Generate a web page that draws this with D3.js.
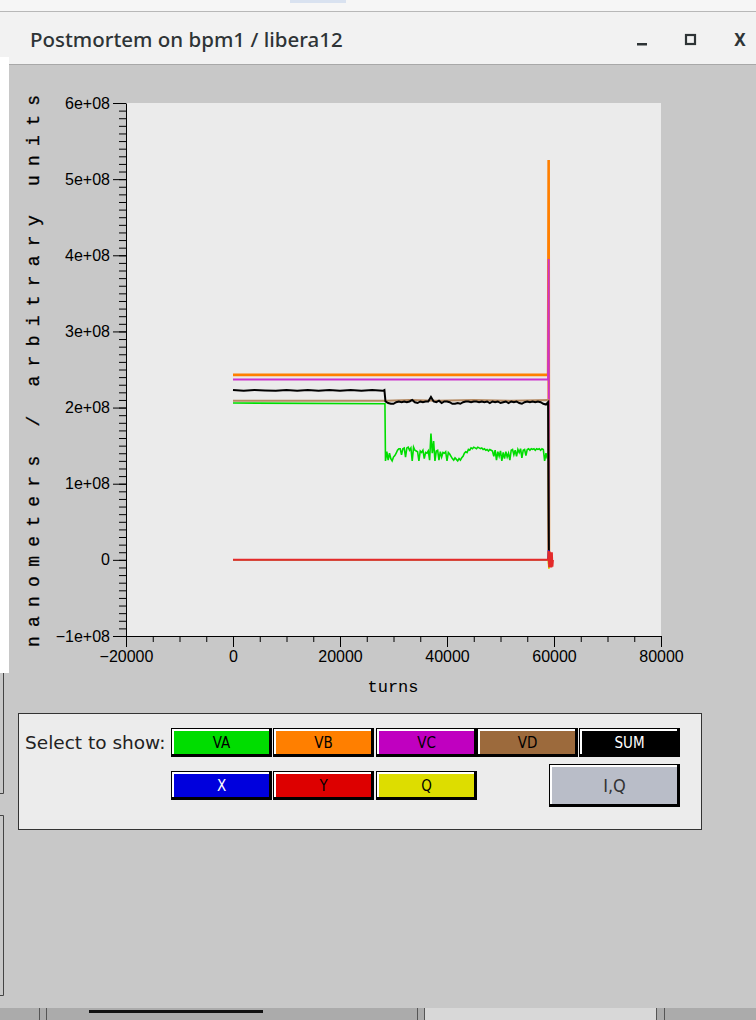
<!DOCTYPE html>
<html>
<head>
<meta charset="utf-8">
<script src="https://cdn.jsdelivr.net/npm/d3@7"></script>
<style>
  html, body { margin: 0; padding: 0; background: #c8c8c8; }
  svg { display: block; }
</style>
</head>
<body>
<svg id="win" width="756" height="1020"></svg>
<script>
// ---------------- data ----------------
const seriesNames = ["VA", "VB", "VC", "VD", "SUM", "X", "Y", "Q"];
const buttonRow1 = ["VA", "VB", "VC", "VD", "SUM"];
const buttonRow2 = ["X", "Y", "Q"];

const xTickValues = [-20000, 0, 20000, 40000, 60000, 80000];
const xTickLabels = ["\u221220000", "0", "20000", "40000", "60000", "80000"];
const yTickValues = [-1e8, 0, 1e8, 2e8, 3e8, 4e8, 5e8, 6e8];
const yTickLabels = ["\u22121e+08", "0", "1e+08", "2e+08", "3e+08", "4e+08", "5e+08", "6e+08"];

// VA: flat, then drops at ~28500 turns into a noisy band
const vaTurnsAfter = [
  28500, 28750, 29000, 29250, 29500, 29750, 30000, 30250, 30500, 30750,
  31000, 31250, 31500, 31750, 32000, 32250, 32500, 32750, 33000, 33250,
  33500, 33750, 34000, 34250, 34500, 34750, 35000, 35250, 35500, 35750,
  36000, 36250, 36500, 36750, 37000, 37250, 37500, 37750, 38000, 38250,
  38500, 38750, 39000, 39250, 39500, 39750, 40000, 40250, 40500, 40750,
  41000, 41250, 41500, 41750, 42000, 42250, 42500, 42750, 43000, 43250,
  43500, 43750, 44000, 44250, 44500, 44750, 45000, 45250, 45500, 45750,
  46000, 46250, 46500, 46750, 47000, 47250, 47500, 47750, 48000, 48250,
  48500, 48750, 49000, 49250, 49500, 49750, 50000, 50250, 50500, 50750,
  51000, 51250, 51500, 51750, 52000, 52250, 52500, 52750, 53000, 53250,
  53500, 53750, 54000, 54250, 54500, 54750, 55000, 55250, 55500, 55750,
  56000, 56250, 56500, 56750, 57000, 57250, 57500, 57750, 58000, 58250,
  58500, 58750
];
const vaValuesAfter = [
  1.30e8, 1.42e8, 1.31e8, 1.40e8, 1.33e8, 1.30e8, 1.35e8, 1.37e8, 1.40e8, 1.44e8,
  1.46e8, 1.46e8, 1.38e8, 1.46e8, 1.47e8, 1.35e8, 1.47e8, 1.48e8, 1.44e8, 1.47e8,
  1.30e8, 1.48e8, 1.44e8, 1.43e8, 1.42e8, 1.30e8, 1.43e8, 1.41e8, 1.44e8, 1.33e8,
  1.41e8, 1.40e8, 1.43e8, 1.31e8, 1.66e8, 1.40e8, 1.56e8, 1.30e8, 1.43e8, 1.44e8,
  1.31e8, 1.42e8, 1.35e8, 1.41e8, 1.40e8, 1.42e8, 1.30e8, 1.41e8, 1.39e8, 1.36e8,
  1.33e8, 1.31e8, 1.34e8, 1.32e8, 1.30e8, 1.33e8, 1.31e8, 1.34e8, 1.36e8, 1.40e8,
  1.42e8, 1.41e8, 1.45e8, 1.44e8, 1.47e8, 1.46e8, 1.48e8, 1.47e8, 1.46e8, 1.48e8,
  1.47e8, 1.46e8, 1.47e8, 1.45e8, 1.46e8, 1.44e8, 1.45e8, 1.43e8, 1.45e8, 1.44e8,
  1.43e8, 1.36e8, 1.44e8, 1.31e8, 1.42e8, 1.36e8, 1.43e8, 1.30e8, 1.41e8, 1.33e8,
  1.42e8, 1.35e8, 1.40e8, 1.31e8, 1.44e8, 1.45e8, 1.38e8, 1.44e8, 1.36e8, 1.45e8,
  1.41e8, 1.46e8, 1.34e8, 1.44e8, 1.45e8, 1.37e8, 1.45e8, 1.46e8, 1.44e8, 1.46e8,
  1.45e8, 1.46e8, 1.44e8, 1.46e8, 1.45e8, 1.46e8, 1.44e8, 1.46e8, 1.45e8, 1.30e8,
  1.40e8, 1.33e8
];
const vaTurns  = [0, 28400].concat(vaTurnsAfter, [58900, 59050, 59800]);
const vaValues = [2.06e8, 2.05e8].concat(vaValuesAfter, [1.42e8, 0, 0]);

// VB: flat, spike at the end of the record
const vbTurns  = [0, 58900, 59000, 59050, 59800];
const vbValues = [2.43e8, 2.43e8, 5.25e8, 0, 0];

// VC: flat, smaller spike at the end
const vcTurns  = [0, 58900, 59000, 59050, 59800];
const vcValues = [2.37e8, 2.37e8, 3.95e8, 0, 0];

// VD
const vdTurns  = [0, 28400, 28600, 33000, 38000, 45000, 52000, 58900, 59050, 59800];
const vdValues = [2.09e8, 2.09e8, 2.09e8, 2.10e8, 2.09e8, 2.10e8, 2.09e8, 2.10e8, 0, 0];

// SUM
const sumTurns = [
  0, 2000, 4000, 6000, 8000, 10000, 12000, 14000, 16000, 18000,
  20000, 22000, 24000, 26000, 28000, 28300,
  28500, 29000, 29500, 30000, 30500, 31000, 31500, 32000, 32500, 33000,
  33500, 34000, 34500, 35000, 35500, 36000, 36500, 37000, 37500, 38000,
  38500, 39000, 39500, 40000, 40500, 41000, 41500, 42000, 42500, 43000,
  43500, 44000, 44500, 45000, 45500, 46000, 46500, 47000, 47500, 48000,
  48500, 49000, 49500, 50000, 50500, 51000, 51500, 52000, 52500, 53000,
  53500, 54000, 54500, 55000, 55500, 56000, 56500, 57000, 57500, 58000,
  58500, 58900, 59050, 59800
];
const sumValues = [
  2.23e8, 2.22e8, 2.23e8, 2.225e8, 2.22e8, 2.23e8, 2.22e8, 2.23e8, 2.22e8, 2.23e8,
  2.22e8, 2.23e8, 2.22e8, 2.23e8, 2.22e8, 2.23e8,
  2.08e8, 2.06e8, 2.05e8, 2.05e8, 2.07e8, 2.08e8, 2.07e8, 2.08e8, 2.07e8, 2.08e8,
  2.10e8, 2.07e8, 2.06e8, 2.08e8, 2.07e8, 2.08e8, 2.08e8, 2.14e8, 2.08e8, 2.07e8,
  2.09e8, 2.06e8, 2.08e8, 2.08e8, 2.07e8, 2.05e8, 2.05e8, 2.06e8, 2.05e8, 2.07e8,
  2.08e8, 2.08e8, 2.07e8, 2.08e8, 2.08e8, 2.07e8, 2.08e8, 2.07e8, 2.08e8, 2.06e8,
  2.08e8, 2.07e8, 2.08e8, 2.06e8, 2.07e8, 2.08e8, 2.06e8, 2.08e8, 2.07e8, 2.08e8,
  2.06e8, 2.05e8, 2.07e8, 2.08e8, 2.07e8, 2.08e8, 2.07e8, 2.08e8, 2.07e8, 2.05e8,
  2.04e8, 2.07e8, -0.04e8, -0.04e8
];

// X, Y, Q stay at zero until the final burst
const xTurns  = [0, 58900, 59000, 59100, 59800];
const xValues = [0, 0, 0.13e8, 0, 0];
const qTurns  = [0, 58900, 59050, 59200, 59800];
const qValues = [0, 0, -0.12e8, 0, 0];
const yTurns  = [0, 58900, 59000, 59100, 59200, 59300, 59400, 59500, 59600, 59700, 59800];
const yValues = [0, 0, 0.12e8, -0.10e8, 0.11e8, -0.10e8, 0.10e8, -0.10e8, 0.10e8, -0.09e8, 0];

// ---------------- styles ----------------
const lineColor = { VA: "#00dd00", VB: "#ff7f00", VC: "#cc33cc", VD: "#b58a62", SUM: "#000000",
                    X: "#0000ee", Y: "#e42a2a", Q: "#e0e000" };
const lineWidth = { VA: 1.6, VB: 2.6, VC: 2, VD: 2, SUM: 2, X: 1.5, Y: 2, Q: 1.5 };
const buttonFill = { VA: "#00dd00", VB: "#ff7f00", VC: "#c000c0", VD: "#9c6a3c", SUM: "#000000",
                     X: "#0000dd", Y: "#dd0000", Q: "#dddd00" };
const buttonText = { VA: "#000", VB: "#000", VC: "#000", VD: "#000", SUM: "#fff",
                     X: "#fff", Y: "#000", Q: "#000" };

const W = 756, H = 1020;
const svg = d3.select("#win");

// ---------------- window chrome ----------------
svg.append("rect").attr("x", 0).attr("y", 0).attr("width", W).attr("height", H).attr("fill", "#c8c8c8");
svg.append("rect").attr("x", 0).attr("y", 0).attr("width", W).attr("height", 11).attr("fill", "#f6f6f6");
svg.append("rect").attr("x", 290).attr("y", 0).attr("width", 56).attr("height", 3).attr("fill", "#d9e2f0");
svg.append("rect").attr("x", 0).attr("y", 11).attr("width", W).attr("height", 54).attr("fill", "#f2f2f2");
svg.append("line").attr("x1", 0).attr("x2", W).attr("y1", 11.5).attr("y2", 11.5).attr("stroke", "#b8b8b8");
svg.append("line").attr("x1", 0).attr("x2", W).attr("y1", 64.5).attr("y2", 64.5).attr("stroke", "#a8a8a8");

svg.append("text").attr("x", 30).attr("y", 47)
  .style("font-family", "'Noto Sans', sans-serif").style("font-size", "20.5px").style("font-weight", 500)
  .attr("fill", "#2e3436").text("Postmortem on bpm1 / libera12");
// window controls
svg.append("rect").attr("x", 637).attr("y", 43).attr("width", 10).attr("height", 2.5).attr("fill", "#2e3436");
svg.append("rect").attr("x", 686).attr("y", 35).attr("width", 9).attr("height", 9)
  .attr("fill", "none").attr("stroke", "#2e3436").attr("stroke-width", 2.2);
svg.append("text").attr("x", 740).attr("y", 46).attr("text-anchor", "middle")
  .style("font-family", "'Noto Sans', sans-serif").style("font-size", "17px").style("font-weight", 700)
  .attr("fill", "#2e3436").text("X");

// window edge of a neighbouring window on the left
svg.append("rect").attr("x", 0).attr("y", 57).attr("width", 9).attr("height", 616).attr("fill", "#ffffff");
svg.append("path").attr("d", "M0,793.5 H3.5 V673").attr("fill", "none").attr("stroke", "#444");
svg.append("path").attr("d", "M0,815.5 H3.5 V995.5 H0").attr("fill", "none").attr("stroke", "#444");

// task bar strip along the bottom
svg.append("rect").attr("x", 0).attr("y", 1008).attr("width", W).attr("height", 12).attr("fill", "#ababab");
svg.append("rect").attr("x", 424).attr("y", 1008).attr("width", 232).attr("height", 12).attr("fill", "#d8d8d8");
[39, 46, 417, 424, 656, 664].forEach(x => {
  svg.append("line").attr("x1", x + 0.5).attr("x2", x + 0.5).attr("y1", 1008).attr("y2", 1020).attr("stroke", "#555");
});
svg.append("rect").attr("x", 89).attr("y", 1010).attr("width", 174).attr("height", 3).attr("fill", "#111");

// ---------------- plot ----------------
const plot = { left: 126, right: 661, top: 103, bottom: 636 };
const x = d3.scaleLinear().domain([-20000, 80000]).range([plot.left, plot.right]);
const y = d3.scaleLinear().domain([-1e8, 6e8]).range([plot.bottom, plot.top]);

svg.append("rect").attr("x", plot.left).attr("y", plot.top)
  .attr("width", plot.right - plot.left).attr("height", plot.bottom - plot.top).attr("fill", "#ebebeb");

const tickFont = "'Liberation Sans', Arial, sans-serif";

// minor ticks
const yMinor = d3.range(-1e8, 6e8 + 1, 1e7);
const xMinor = d3.range(-20000, 80001, 5000);
svg.append("g").attr("transform", `translate(${plot.left},0)`)
  .call(d3.axisLeft(y).tickValues(yMinor).tickSize(7).tickSizeOuter(0).tickFormat(""))
  .call(g => g.select(".domain").remove());
svg.append("g").attr("transform", `translate(0,${plot.bottom})`)
  .call(d3.axisBottom(x).tickValues(xMinor).tickSize(6).tickSizeOuter(0).tickFormat(""))
  .call(g => g.select(".domain").remove());

// major ticks and labels
const yAxis = svg.append("g").attr("transform", `translate(${plot.left},0)`)
  .call(d3.axisLeft(y).tickValues(yTickValues).tickSize(13).tickSizeOuter(0).tickPadding(3)
    .tickFormat((d, i) => yTickLabels[i]));
const xAxis = svg.append("g").attr("transform", `translate(0,${plot.bottom})`)
  .call(d3.axisBottom(x).tickValues(xTickValues).tickSize(11).tickSizeOuter(0).tickPadding(4)
    .tickFormat((d, i) => xTickLabels[i]));
[yAxis, xAxis].forEach(g => {
  g.selectAll("text").style("font-family", tickFont).style("font-size", "16px").attr("fill", "#000");
  g.selectAll("line, path").attr("stroke", "#000");
  g.attr("font-family", null);
});
svg.selectAll(".tick line").attr("stroke", "#000");

// axis titles
svg.append("text").attr("x", 393).attr("y", 692).attr("text-anchor", "middle")
  .style("font-family", "'Liberation Mono', monospace").style("font-size", "17px")
  .attr("fill", "#000").text("turns");
svg.append("text").attr("transform", "translate(39,647) rotate(-90)")
  .attr("textLength", 552).attr("lengthAdjust", "spacing")
  .style("font-family", "'Liberation Mono', monospace").style("font-size", "18px")
  .attr("fill", "#000").attr("stroke", "#000").attr("stroke-width", 0.3)
  .text("nanometers / arbitrary units");

// series
const seriesData = {
  VA: [vaTurns, vaValues], VB: [vbTurns, vbValues], VC: [vcTurns, vcValues], VD: [vdTurns, vdValues],
  SUM: [sumTurns, sumValues], X: [xTurns, xValues], Q: [qTurns, qValues], Y: [yTurns, yValues]
};
const line = d3.line().x(d => x(d[0])).y(d => y(d[1]));
const drawOrder = ["VA", "VB", "VC", "VD", "SUM", "X", "Q", "Y"];
const lines = svg.append("g");
drawOrder.forEach(name => {
  const [t, v] = seriesData[name];
  const pts = t.map((tt, i) => [tt, v[i]]);
  lines.append("path").datum(pts).attr("d", line)
    .attr("fill", "none").attr("stroke", lineColor[name]).attr("stroke-width", lineWidth[name])
    .attr("stroke-linejoin", "miter").attr("stroke-linecap", "butt");
});

// ---------------- selector panel ----------------
svg.append("rect").attr("x", 18.5).attr("y", 713.5).attr("width", 683).attr("height", 116)
  .attr("fill", "#ececec").attr("stroke", "#333");
svg.append("text").attr("x", 25).attr("y", 749)
  .style("font-family", "'DejaVu Sans', sans-serif").style("font-size", "18.5px")
  .attr("fill", "#222").text("Select to show:");

function button(px, py, w, h, fill, label, color, size) {
  const g = svg.append("g");
  g.append("rect").attr("x", px).attr("y", py).attr("width", w).attr("height", h).attr("fill", "#000");
  g.append("rect").attr("x", px + 1).attr("y", py + 1).attr("width", w - 4).attr("height", h - 4).attr("fill", "#fff");
  g.append("rect").attr("x", px + 3).attr("y", py + 3).attr("width", w - 6).attr("height", h - 6).attr("fill", fill);
  g.append("text").attr("x", px + w / 2).attr("y", py + h / 2 + size * 0.36).attr("text-anchor", "middle")
    .style("font-family", "'DejaVu Sans', sans-serif").style("font-size", size + "px")
    .style("font-stretch", "condensed").attr("fill", color).text(label);
}
const row1X = [171, 273, 376, 477, 579];
buttonRow1.forEach((n, i) => button(row1X[i], 728, 101, 29, buttonFill[n], n, buttonText[n], 15));
buttonRow2.forEach((n, i) => button(row1X[i], 771, 101, 29, buttonFill[n], n, buttonText[n], 15));
button(549, 764, 131, 43, "#b9bdc8", "I,Q", "#333", 18);
</script>
</body>
</html>
